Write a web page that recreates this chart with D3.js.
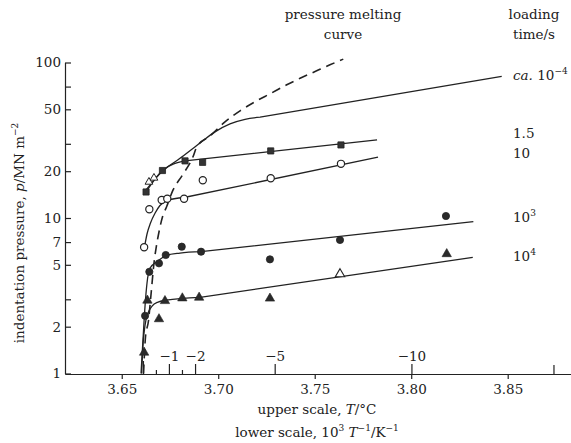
<!DOCTYPE html>
<html>
<head>
<meta charset="utf-8">
<script src="https://cdn.jsdelivr.net/npm/d3@7/dist/d3.min.js"></script>
<style>
  html, body { margin: 0; padding: 0; background: #fff; }
  svg text { font-family: "DejaVu Serif", "Liberation Serif", serif; fill: #222; }
</style>
</head>
<body>
<svg id="chart" width="571" height="443"></svg>
<script>
// ---------- DATA (x: 10^3 T^-1 / K^-1, p: MN m^-2) ----------
const yTickLabelled = [1, 2, 5, 7, 10, 20, 50, 100];
const yTickMinor = [3, 30, 70];
const xTickValues = [3.65, 3.70, 3.75, 3.80, 3.85];
const tempMajor = [-1, -2, -5, -10];
const tempZero = [0];
const tempMinor = [-0.5, -1.5];
const tempUnlabelled = [-15];

// pressure melting curve (dashed)
const meltingCurve = [
  [3.6613, 1.0], [3.6623, 1.71], [3.6639, 2.20], [3.6649, 2.96], [3.6669, 5.36],
  [3.6678, 6.41], [3.6693, 8.13], [3.6711, 10.15], [3.6732, 11.77], [3.6766, 15.15],
  [3.6815, 18.92], [3.6869, 24.7], [3.6889, 28.7], [3.6958, 33.7], [3.7035, 41.5],
  [3.7113, 48.9], [3.7199, 56.7], [3.7268, 62.9], [3.7355, 71.9], [3.7424, 79.1],
  [3.7510, 88.4], [3.7579, 96.6], [3.7648, 105.1]
];

// each solid curve: smooth part, last point = end of the straight tail
// loading time ca. 1e-4 s
const curveCa = [
  [3.6626, 15.15], [3.6709, 19.93], [3.6802, 24.2], [3.6906, 30.4], [3.6983, 35.8],
  [3.7061, 40.3], [3.7139, 43.1], [3.7217, 44.5], [3.8469, 81.3]
];
const pointsCa = [[3.6641, 17.05], [3.6667, 18.1]];

// loading time 1.5 s (filled squares)
const curve15 = [[3.6626, 14.7], [3.6711, 20.2], [3.6828, 23.3], [3.7823, 31.8]];
const points15 = [[3.6626, 14.7], [3.6711, 20.2], [3.6828, 23.3], [3.6919, 22.8], [3.7272, 27.0], [3.7636, 29.5]];

// loading time 10 s (open circles)
const curve10 = [
  [3.6618, 6.51], [3.6631, 7.89], [3.6649, 9.29], [3.6673, 10.77], [3.6698, 12.04],
  [3.6735, 12.96], [3.6823, 13.55], [3.7828, 24.6]
];
const points10 = [
  [3.6616, 6.48], [3.6643, 11.38], [3.6707, 13.06], [3.6736, 13.31], [3.6823, 13.31],
  [3.6920, 17.49], [3.7272, 18.0], [3.7636, 22.3]
];

// loading time 10^3 s (filled circles)
const curve1e3 = [
  [3.6600, 1.0], [3.6610, 1.64], [3.6621, 2.75], [3.6631, 3.82], [3.6647, 4.77],
  [3.6688, 5.29], [3.6730, 5.74], [3.6802, 5.95], [3.6911, 6.07], [3.8322, 9.47]
];
const points1e3 = [
  [3.6621, 2.35], [3.6643, 4.51], [3.6693, 5.11], [3.6728, 5.78], [3.6811, 6.54],
  [3.6911, 6.07], [3.7268, 5.42], [3.7631, 7.22], [3.8180, 10.3]
];

// loading time 10^4 s (triangles)
const curve1e4 = [
  [3.6603, 1.0], [3.6610, 1.52], [3.6621, 2.05], [3.6636, 2.44], [3.6657, 2.71],
  [3.6688, 2.88], [3.6730, 2.96], [3.6906, 3.09], [3.8319, 5.58]
];
const points1e4 = [
  [3.6616, 1.365], [3.6633, 2.95], [3.6693, 2.24], [3.6724, 2.93], [3.6814, 3.05],
  [3.6901, 3.08], [3.7268, 3.04], [3.8184, 5.87]
];
const points1e4Open = [[3.7631, 4.36]];

// ---------- CHART ----------
const svg = d3.select("#chart");
const ink = "#222";

const x = d3.scaleLinear().domain([3.6206, 3.8828]).range([65, 571]);
const y = d3.scaleLog().domain([1, 100]).range([373.5, 62.5]);
const tempToX = t => 1000 / (t + 273.15);

// y axis
const yAxisG = svg.append("g").attr("transform", "translate(65,0)");
yAxisG.call(d3.axisLeft(y).tickValues(yTickLabelled).tickFormat(d3.format("d"))
  .tickSizeInner(-6).tickSizeOuter(0).tickPadding(4));
yAxisG.call(g => g.append("g").call(d3.axisLeft(y).tickValues(yTickMinor).tickFormat("")
  .tickSizeInner(-6).tickSizeOuter(0)).select(".domain").remove());
yAxisG.selectAll("text").attr("font-size", 13.5).attr("font-family", "DejaVu Serif");
yAxisG.selectAll("line, path").attr("stroke", ink).attr("stroke-width", 1.2);

// x axis (lower scale)
const xAxisG = svg.append("g").attr("transform", "translate(0,374)");
xAxisG.call(d3.axisBottom(x).tickValues(xTickValues).tickFormat(d3.format(".2f"))
  .tickSizeInner(5).tickSizeOuter(0).tickPadding(5));
xAxisG.selectAll("text").attr("font-size", 13.5).attr("font-family", "DejaVu Serif");
xAxisG.selectAll("line, path").attr("stroke", ink).attr("stroke-width", 1.2);

// upper scale (temperature) ticks on the same axis line
function tempAxis(vals, size, labelled) {
  const g = svg.append("g").attr("transform", "translate(0,374)");
  g.call(d3.axisTop(x).tickValues(vals.map(tempToX))
    .tickFormat(labelled ? ((d, i) => "\u2212" + Math.abs(vals[i])) : "")
    .tickSizeInner(size).tickSizeOuter(0).tickPadding(3));
  g.select(".domain").remove();
  g.selectAll("line").attr("stroke", ink).attr("stroke-width", 1.2);
  g.selectAll("text").attr("font-size", 13.5).attr("font-family", "DejaVu Serif");
}
tempAxis(tempMajor, 10, true);
tempAxis(tempZero, 13, false);
tempAxis(tempMinor, 4, false);
tempAxis(tempUnlabelled, 9, false);

// curves: smooth part + straight tail
const smooth = d3.line().x(d => x(d[0])).y(d => y(d[1])).curve(d3.curveMonotoneX);
function curvePath(c) {
  const last = c[c.length - 1];
  return smooth(c.slice(0, -1)) + "L" + x(last[0]) + "," + y(last[1]);
}

svg.append("path").datum(meltingCurve).attr("d", smooth)
  .attr("fill", "none").attr("stroke", ink).attr("stroke-width", 1.6)
  .attr("stroke-dasharray", "9,6");

[curveCa, curve15, curve10, curve1e3, curve1e4].forEach(c => {
  svg.append("path").datum(c).attr("d", curvePath)
    .attr("fill", "none").attr("stroke", ink).attr("stroke-width", 1.3);
});

// markers
const sq = d3.symbol().type(d3.symbolSquare).size(38);
const tri = d3.symbol().type(d3.symbolTriangle).size(38);
const triSmall = d3.symbol().type(d3.symbolTriangle).size(26);

svg.append("g").selectAll("path").data(points15).join("path")
  .attr("d", sq).attr("transform", d => `translate(${x(d[0])},${y(d[1])})`)
  .attr("fill", "#333").attr("stroke", ink).attr("stroke-width", 0.8);

svg.append("g").selectAll("path").data(pointsCa).join("path")
  .attr("d", triSmall).attr("transform", d => `translate(${x(d[0])},${y(d[1])})`)
  .attr("fill", "#fff").attr("stroke", ink).attr("stroke-width", 1);

svg.append("g").selectAll("circle").data(points10).join("circle")
  .attr("cx", d => x(d[0])).attr("cy", d => y(d[1])).attr("r", 3.6)
  .attr("fill", "#fff").attr("stroke", ink).attr("stroke-width", 1.2);

svg.append("g").selectAll("circle").data(points1e3).join("circle")
  .attr("cx", d => x(d[0])).attr("cy", d => y(d[1])).attr("r", 3.6)
  .attr("fill", "#2a2a2a").attr("stroke", ink).attr("stroke-width", 0.8);

svg.append("g").selectAll("path").data(points1e4).join("path")
  .attr("d", tri).attr("transform", d => `translate(${x(d[0])},${y(d[1])})`)
  .attr("fill", "#2a2a2a").attr("stroke", ink).attr("stroke-width", 0.6);

svg.append("g").selectAll("path").data(points1e4Open).join("path")
  .attr("d", tri).attr("transform", d => `translate(${x(d[0])},${y(d[1])})`)
  .attr("fill", "#fff").attr("stroke", ink).attr("stroke-width", 1.1);

// ---------- TEXT ----------
const fs = 13.5;
function txt(xp, yp, anchor) {
  return svg.append("text").attr("x", xp).attr("y", yp)
    .attr("text-anchor", anchor).attr("font-size", fs);
}
function sup(t, s) {
  t.append("tspan").attr("dy", -6).attr("font-size", 9).text(s);
  return t;
}
function back(t) { return t.append("tspan").attr("dy", 6); }

// top labels
txt(343, 19, "middle").text("pressure melting");
txt(343, 39, "middle").text("curve");
txt(534, 19, "middle").text("loading");
txt(534, 39, "middle").text("time/s");

// series labels
{
  const t = txt(513, 80, "start");
  t.append("tspan").attr("font-style", "italic").text("ca.");
  t.append("tspan").text(" 10");
  sup(t, "\u22124");
}
txt(513, 138, "start").text("1.5");
txt(513, 158, "start").text("10");
{ const t = txt(513, 222, "start"); t.append("tspan").text("10"); sup(t, "3"); }
{ const t = txt(513, 261, "start"); t.append("tspan").text("10"); sup(t, "4"); }

// x axis titles
{
  const t = txt(317, 414, "middle");
  t.append("tspan").text("upper scale, ");
  t.append("tspan").attr("font-style", "italic").text("T");
  t.append("tspan").text("/\u00B0C");
}
{
  const t = txt(317, 437, "middle");
  t.append("tspan").text("lower scale, 10");
  sup(t, "3");
  back(t).text(" ");
  t.append("tspan").attr("font-style", "italic").text("T");
  sup(t, "\u22121");
  back(t).text("/K");
  sup(t, "\u22121");
}

// y axis title
{
  const t = svg.append("text").attr("transform", "translate(24,233) rotate(-90)")
    .attr("text-anchor", "middle").attr("font-size", fs);
  t.append("tspan").text("indentation pressure, ");
  t.append("tspan").attr("font-style", "italic").text("p");
  t.append("tspan").text("/MN m");
  sup(t, "\u22122");
}
</script>
</body>
</html>
